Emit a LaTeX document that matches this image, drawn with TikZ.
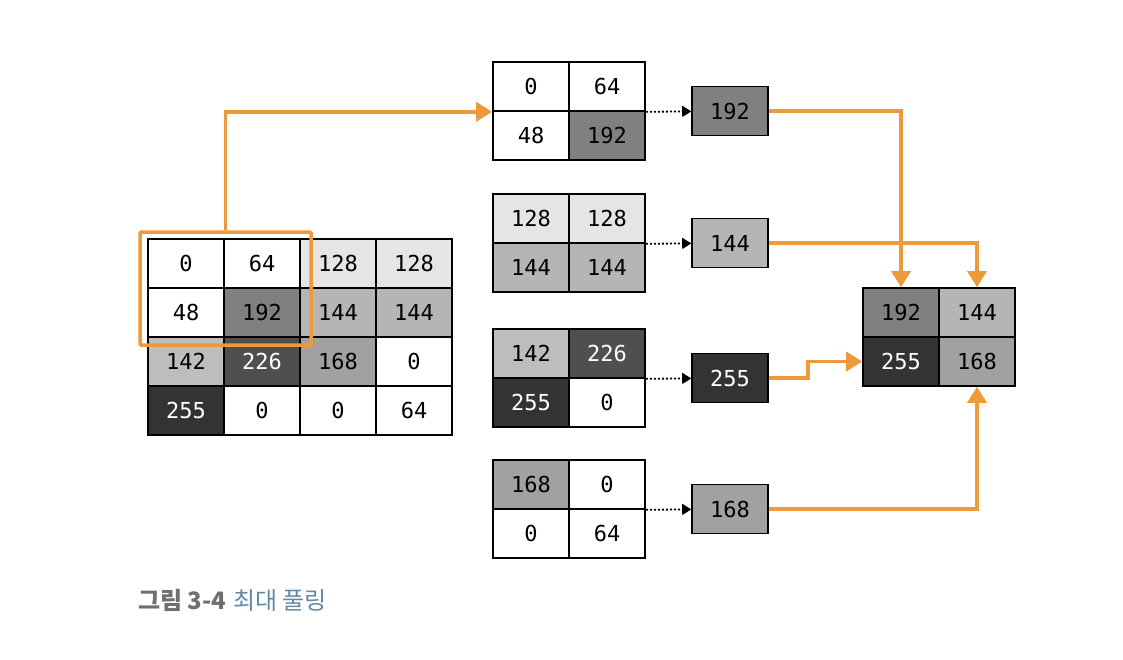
\documentclass[tikz,border=0pt]{standalone}
\usepackage{fontspec}
\setmonofont{DejaVu Sans Mono}
\newfontfamily\krfont{Noto Sans CJK KR}
\usetikzlibrary{arrows.meta,positioning,calc}
\definecolor{poolorange}{HTML}{EC9A3C}
\definecolor{capgray}{HTML}{6F6F6F}
\definecolor{capblue}{HTML}{6289A6}

\tikzset{
  cell/.style={draw, line width=1.6pt, minimum width=76pt, minimum height=49pt,
    inner sep=0pt, font=\fontsize{22}{26}\selectfont\ttfamily},
  v0/.style={fill=white}, v48/.style={fill=white}, v64/.style={fill=white},
  v128/.style={fill=black!10}, v142/.style={fill=black!26}, v144/.style={fill=black!29},
  v168/.style={fill=black!37}, v192/.style={fill=black!50},
  v226/.style={fill=black!69, text=white}, v255/.style={fill=black!80, text=white},
  pool/.style={poolorange, line width=3.5pt, -{Triangle[length=16pt,width=19pt]}},
  peek/.style={line width=1.8pt, dash pattern=on 2pt off 2pt, -{Triangle[length=9pt,width=11pt]}},
}

\begin{document}
\begin{tikzpicture}[x=1pt, y=-1pt]
  \useasboundingbox (0,0) rectangle (1123,659);

  % input 4x4
  \foreach \r/\row in {1/{0,64,128,128},2/{48,192,144,144},3/{142,226,168,0},4/{255,0,0,64}}
    \foreach \v [count=\c] in \row
      \node[cell, v\v] (in-\r-\c) at ({186+76*(\c-1)}, {263.5+49*(\r-1)}) {\v};

  % 2x2 windows and their maxima
  \foreach \k/\top/\vals/\mx in {1/62/{0,64,48,192}/192, 2/194/{128,128,144,144}/144,
                                 3/329/{142,226,255,0}/255, 4/460/{168,0,0,64}/168}{
    \foreach \v [count=\i from 0] in \vals {
      \pgfmathtruncatemacro\rr{div(\i,2)+1}
      \pgfmathtruncatemacro\cc{mod(\i,2)+1}
      \node[cell, v\v] (g\k-\rr-\cc) at ({531+76*(\cc-1)}, {\top+24.5+49*(\rr-1)}) {\v};
    }
    \node[cell, v\mx] (r\k) at (730, {\top+49}) {\mx};
    \draw[peek] (g\k-1-2.south east) -- (r\k);
  }

  % pooled output
  \foreach \v [count=\i from 0] in {192,144,255,168} {
    \pgfmathtruncatemacro\rr{div(\i,2)+1}
    \pgfmathtruncatemacro\cc{mod(\i,2)+1}
    \node[cell, v\v] (out-\rr-\cc) at ({901+76*(\cc-1)}, {312.5+49*(\rr-1)}) {\v};
  }

  % sliding window
  \node[draw=poolorange, line width=3.5pt, minimum width=171pt, minimum height=113pt,
    inner sep=0pt, rounded corners=1pt] (win) at (225.5, 288.5) {};

  \draw[pool] (win.north) |- (g1-1-1.south west);
  \draw[pool] (r1.east) -| (out-1-1.north);
  \draw[pool] (r2.east) -| (out-1-2.north);
  \draw[pool] (r3.east) -- ++(39,0) |- (out-2-1.west);
  \draw[pool] (r4.east) -| (out-2-2.south);

  \node[anchor=west, inner sep=0pt, font=\krfont\fontsize{24}{28}\selectfont] (cap) at (138, 600)
    {\textcolor{capgray}{\bfseries 그림 3-4}\hspace{7pt}\textcolor{capblue}{최대 풀링}};
\end{tikzpicture}
\end{document}
